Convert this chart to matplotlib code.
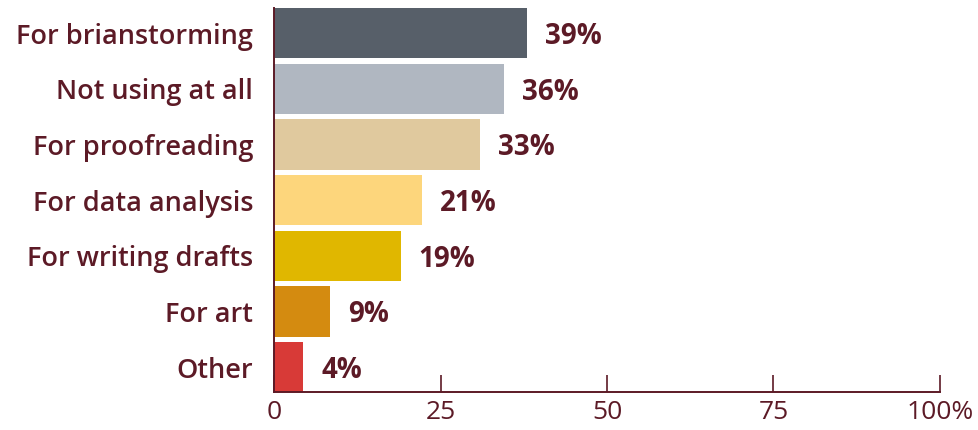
import matplotlib
matplotlib.use("Agg")
import matplotlib.pyplot as plt

# ── Data ────────────────────────────────────────────────────────────────────
CATEGORIES = ["For brianstorming", "Not using at all", "For proofreading",
              "For data analysis", "For writing drafts", "For art", "Other"]
VALUES = [38, 34.5, 31, 22.2, 19, 8.4, 4.4]          # bar lengths as drawn
VALUE_LABELS = ["39%", "36%", "33%", "21%", "19%", "9%", "4%"]
BAR_COLORS = ["#575f69", "#b0b7c1", "#e0c99e", "#fdd67c",
              "#e0b700", "#d48b10", "#d83a37"]
X_TICKS = [0, 25, 50, 75, 100]
X_TICK_LABELS = ["0", "25", "50", "75", "100%"]

MAROON = "#5c1a26"

plt.rcParams["font.family"] = ["Open Sans", "DejaVu Sans"]

fig = plt.figure(figsize=(9.79, 4.30), dpi=100)
ax = fig.add_axes([0.280, 0.088, 0.680, 0.893])

y = list(range(len(CATEGORIES)))
ax.barh(y, VALUES, height=0.9, color=BAR_COLORS, zorder=2)

# value labels just past each bar end
for yi, v, lab in zip(y, VALUES, VALUE_LABELS):
    ax.text(v + 2.7, yi + 0.06, lab, va="center", ha="left", fontsize=20,
            fontweight="bold", color=MAROON)

ax.set_ylim(len(CATEGORIES) - 0.55, -0.45)
ax.set_xlim(0, 100)
ax.set_yticks(y)
ax.set_yticklabels(CATEGORIES, fontsize=19.5, color=MAROON, fontweight="semibold")
ax.tick_params(axis="y", length=0, pad=15)

ax.set_xticks(X_TICKS)
ax.set_xticklabels(X_TICK_LABELS, fontsize=19, color=MAROON, fontweight="normal")
ax.tick_params(axis="x", direction="in", length=12, width=1.2,
               color=MAROON, pad=6)

for side in ("top", "right"):
    ax.spines[side].set_visible(False)
for side in ("left", "bottom"):
    ax.spines[side].set_color(MAROON)
    ax.spines[side].set_linewidth(1.4)
    ax.spines[side].set_zorder(3)

fig.savefig("out.png", dpi=100)
